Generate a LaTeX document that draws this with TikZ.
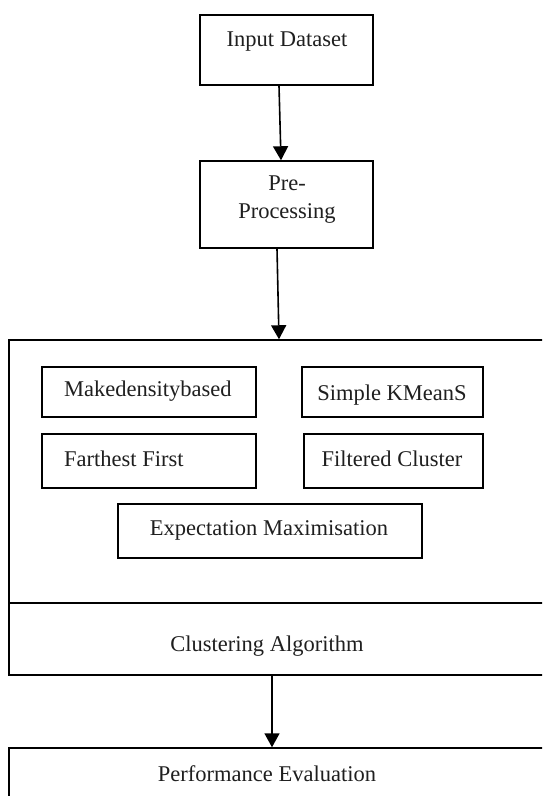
\documentclass[tikz,border=0pt]{standalone}
\usepackage{fontspec}
\setmainfont{Liberation Serif}
\usetikzlibrary{arrows.meta}
\begin{document}
\begin{tikzpicture}[x=1pt,y=-1pt,
  box/.style={draw, line width=1.5pt, inner sep=0pt},
  lbl/.style={font=\fontsize{22.5}{28}\selectfont, inner sep=0pt, text=black!88},
  arr/.style={line width=1.6pt, -{Triangle[width=15pt,length=14pt]}}]
\useasboundingbox (0,0) rectangle (542,796);
\fill[white] (0,0) rectangle (542,796);
\begin{scope}
\clip (0,0) rectangle (542,796);
% top boxes
\node[box, minimum width=173pt, minimum height=70pt] (input) at (286.5,50) {};
\node[lbl] (inputT) at (287,42) {Input Dataset};
\node[box, minimum width=173pt, minimum height=87pt] (pre) at (286.5,204.5) {};
\node[lbl, align=center] (preT) at (287,200) {Pre-\\Processing};
% big clustering box
\node[box, minimum width=551pt, minimum height=335pt] (big) at (284.5,507.5) {};
\coordinate (divL) at (9,603);
\coordinate (divR) at (560,603);
\draw[line width=1.5pt] (divL) -- (divR);
\node[lbl] (clT) at (267,646) {Clustering Algorithm};
% inner boxes
\node[box, minimum width=214pt, minimum height=50pt] (mk) at (149,392) {};
\node[lbl, anchor=west] (mkT) at (64,391) {Makedensitybased};
\node[box, minimum width=181pt, minimum height=50pt] (sk) at (392.5,392) {};
\node[lbl] (skT) at (392,395) {Simple KMeanS};
\node[box, minimum width=214pt, minimum height=54pt] (ff) at (149,461) {};
\node[lbl, anchor=west] (ffT) at (64,459) {Farthest First};
\node[box, minimum width=179pt, minimum height=54pt] (fc) at (393.5,461) {};
\node[lbl] (fcT) at (392,459) {Filtered Cluster};
\node[box, minimum width=304pt, minimum height=54pt] (em) at (270,531) {};
\node[lbl] (emT) at (269,530) {Expectation Maximisation};
% performance box
\node[box, minimum width=551pt, minimum height=82pt] (perf) at (284.5,789) {};
\node[lbl] (perfT) at (267,774) {Performance Evaluation};
% arrows
\draw[arr] ([xshift=-7.5pt]input.south) -- ([xshift=-5.5pt]pre.north);
\draw[arr] ([xshift=-9.5pt]pre.south) -- ([xshift=-5.5pt]big.north);
\draw[arr] ([xshift=-12.5pt]big.south) -- ([xshift=-12.5pt]perf.north);
\end{scope}
\end{tikzpicture}
\end{document}
